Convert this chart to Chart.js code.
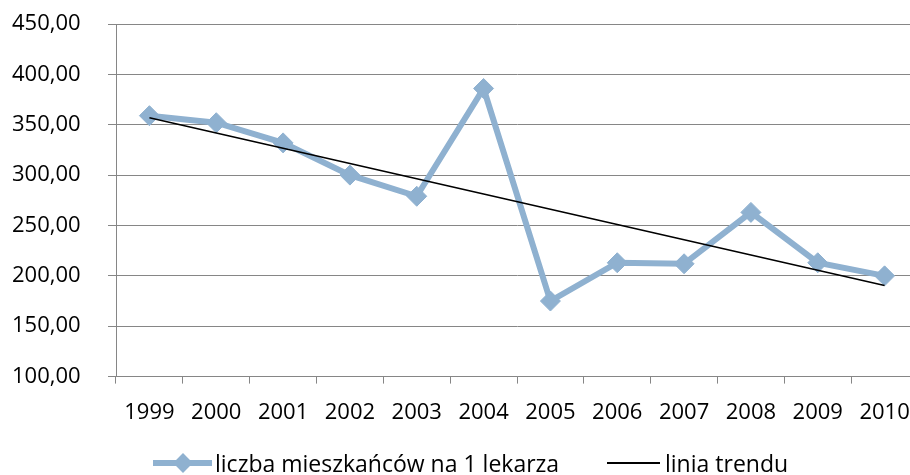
<!DOCTYPE html>
<html>
<head>
<meta charset="utf-8">
<script src="https://cdn.jsdelivr.net/npm/chart.js@4.4.1/dist/chart.umd.min.js"></script>
<style>
html, body { margin: 0; padding: 0; background: #fff; overflow: hidden; }
#wrap { position: relative; width: 930px; height: 475px; }
#myChart { position: absolute; left: 0; top: 0; }
#legend { position: absolute; left: 0; top: 449px; width: 910px; height: 28px; font: 23px "Open Sans"; color: #000; }
.item { position: absolute; top: 0; height: 28px; line-height: 28px; display: flex; align-items: center; white-space: nowrap; }
.sym1 { position: relative; width: 59px; height: 6px; background: #8FB1D0; margin-right: 3px; }
.sym1 span { position: absolute; left: 23px; top: -4px; width: 14px; height: 14px; background: #8FB1D0; transform: rotate(45deg); }
.sym2 { width: 53px; height: 2px; background: #000; margin-right: 5px; }
</style>
</head>
<body>
<div id="wrap">
  <canvas id="myChart" width="929" height="475"></canvas>
  <div id="legend"></div>
</div>
<script>
// data block
const years = ['1999', '2000', '2001', '2002', '2003', '2004', '2005', '2006', '2007', '2008', '2009', '2010'];
const residentsPerDoctor = [359, 352, 332, 300, 279, 386, 175, 213, 212, 263, 213, 200];
const yTicks = [100, 150, 200, 250, 300, 350, 400, 450];
const seriesName = 'liczba mieszkańców na 1 lekarza';
const trendName = 'linia trendu';

// linear trend (least squares), same as the spreadsheet trendline
const n = residentsPerDoctor.length;
const meanX = (n + 1) / 2;
const meanY = residentsPerDoctor.reduce((a, b) => a + b, 0) / n;
let sxy = 0, sxx = 0;
residentsPerDoctor.forEach(function (v, i) {
    sxy += (i + 1 - meanX) * (v - meanY);
    sxx += (i + 1 - meanX) * (i + 1 - meanX);
});
const slope = sxy / sxx;
const trend = residentsPerDoctor.map((v, i) => meanY + slope * (i + 1 - meanX));

const blue = '#8FB1D0';
const gridGray = '#868686';

const data = {
    labels: years,
    datasets: [{
        label: seriesName,
        data: residentsPerDoctor,
        borderColor: blue,
        backgroundColor: blue,
        borderWidth: 6,
        pointStyle: 'rectRot',
        pointRadius: 10,
        pointBorderWidth: 1,
        tension: 0,
        order: 1
    }, {
        label: trendName,
        data: trend,
        borderColor: '#000',
        borderWidth: 1.6,
        pointRadius: 0,
        tension: 0,
        order: 0
    }]
};

// config block
const config = {
    type: 'line',
    data: data,
    options: {
        responsive: false,
        animation: false,
        layout: { padding: { left: 12, right: 1, top: 24, bottom: 33 } },
        plugins: {
            legend: { display: false },
            tooltip: { enabled: false }
        },
        scales: {
            x: {
                offset: true,
                grid: { offset: true, drawOnChartArea: false, color: gridGray, tickLength: 7, lineWidth: 1 },
                border: { color: gridGray, width: 1 },
                ticks: { color: '#000', font: { family: 'Open Sans', size: 22 }, padding: 16, maxRotation: 0, autoSkip: false }
            },
            y: {
                min: yTicks[0],
                max: yTicks[yTicks.length - 1],
                afterFit: function (scale) { scale.width = 104; },
                afterBuildTicks: function (scale) { scale.ticks = yTicks.map(v => ({ value: v })); },
                grid: { color: gridGray, tickLength: 8, lineWidth: 1 },
                border: { color: gridGray, width: 1 },
                ticks: {
                    color: '#000',
                    font: { family: 'Open Sans', size: 22 },
                    padding: 0,
                    crossAlign: 'far',
                    callback: v => v.toFixed(2).replace('.', ',')
                }
            }
        }
    }
};

// render block
const myChart = new Chart(document.getElementById('myChart'), config);

// legend (html)
const legend = document.getElementById('legend');
legend.innerHTML =
    '<div class="item" style="left:153px"><div class="sym1"><span></span></div>' + seriesName + '</div>' +
    '<div class="item" style="left:607px"><div class="sym2"></div>' + trendName + '</div>';
</script>
</body>
</html>
